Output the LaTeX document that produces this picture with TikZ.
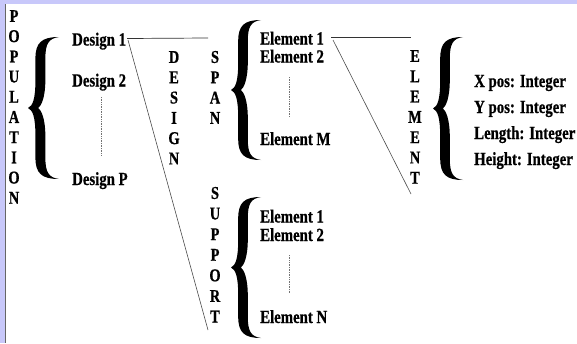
\documentclass[tikz,border=0pt]{standalone}
\usepackage{fontspec}
\newfontfamily\tf{Liberation Serif}[FakeStretch=0.8, BoldFeatures={FakeBold=0.7}]
\definecolor{framebl}{RGB}{200,200,250}
\newcommand\hvybrace[4]{%
\pgfmathsetmacro\bw{#1-#2}%
\pgfmathsetmacro\bM{(#3+#4)/2}%
\pgfmathsetmacro\bh{(#4-#3)/2}%
\pgfmathsetmacro\bxo{#2+0.24*\bw}%
\pgfmathsetmacro\bxi{#2+0.56*\bw}%
\pgfmathsetmacro\bxn{#2+0.33*\bw}%
\fill[bracestyle] (#1,#3) .. controls ({\bxo+0.2*\bw},#3) and (\bxo,{#3+0.08*\bh}) .. (\bxo,{#3+0.3*\bh})
 -- (\bxo,{\bM-0.4*\bh}) .. controls (\bxo,{\bM-0.12*\bh}) and ({#2+0.15*\bw},{\bM-0.03*\bh}) .. (#2,\bM)
 .. controls ({#2+0.15*\bw},{\bM+0.03*\bh}) and (\bxo,{\bM+0.12*\bh}) .. (\bxo,{\bM+0.4*\bh})
 -- (\bxo,{#4-0.3*\bh}) .. controls (\bxo,{#4-0.08*\bh}) and ({\bxo+0.2*\bw},#4) .. (#1,#4)
 .. controls ({\bxi+0.1*\bw},{#4-0.02*\bh}) and (\bxi,{#4-0.1*\bh}) .. (\bxi,{#4-0.3*\bh})
 -- (\bxi,{\bM+0.4*\bh}) .. controls (\bxi,{\bM+0.15*\bh}) and ({\bxn+0.1*\bw},{\bM+0.03*\bh}) .. (\bxn,\bM)
 .. controls ({\bxn+0.1*\bw},{\bM-0.03*\bh}) and (\bxi,{\bM-0.15*\bh}) .. (\bxi,{\bM-0.4*\bh})
 -- (\bxi,{#3+0.3*\bh}) .. controls (\bxi,{#3+0.1*\bh}) and ({\bxi+0.1*\bw},{#3+0.02*\bh}) .. (#1,#3) -- cycle;}
\begin{document}
\begin{tikzpicture}[x=1pt,y=-1pt,
  txt/.style={inner sep=0pt, anchor=base west, font=\tf\bfseries\fontsize{18.5}{20}\selectfont},
  vl/.style={inner sep=0pt, anchor=center, font=\tf\bfseries\fontsize{18}{20}\selectfont},
  conn/.style={line width=0.7pt, draw=black!80},
  dotv/.style={draw=black!55, line width=0.5pt, dash pattern=on 0.8pt off 0.9pt},
  bracestyle/.style={fill=black}]
\useasboundingbox (0,0) rectangle (577,343);
\fill[white] (0,0) rectangle (577,343);
\fill[framebl] (0,0) rectangle (577,4);
\fill[framebl] (0,0) rectangle (5,343);
\draw[black!60, line width=0.6pt] (5.5,4) -- (5.5,343);
% vertical words
\foreach \c [count=\i from 0] in {P,O,P,U,L,A,T,I,O,N}
  \node[vl] (pop\i) at (14,{16+20.2*\i}) {\c};
\foreach \c [count=\i from 0] in {D,E,S,I,G,N}
  \node[vl] (des\i) at (174,{57+20.3*\i}) {\c};
\foreach \c [count=\i from 0] in {S,P,A,N}
  \node[vl] (spa\i) at (215,{57+20.3*\i}) {\c};
\foreach \c [count=\i from 0] in {S,U,P,P,O,R,T}
  \node[vl] (sup\i) at (215,{193+20.6*\i}) {\c};
\foreach \c [count=\i from 0] in {E,L,E,M,E,N,T}
  \node[vl] (ele\i) at (415,{56+20.3*\i}) {\c};
% braces
\hvybrace{59}{28}{37}{179}
\hvybrace{261}{231}{20}{160}
\hvybrace{261}{231}{197}{338}
\hvybrace{463}{433}{37}{180}
% population
\node[txt] (d1) at (72,45.5) {Design 1};
\node[txt] (d2) at (72,86.5) {Design 2};
\node[txt] (dp) at (72,185) {Design P};
\coordinate (dtop) at (101,97);
\coordinate (dbot) at (101,155);
\draw[dotv] (dtop) -- (dbot);
% span
\node[txt] (se1) at (260,44.5) {Element 1};
\node[txt] (se2) at (260,62.5) {Element 2};
\node[txt] (sem) at (260,145) {Element M};
\coordinate (stop) at (289,77);
\coordinate (sbot) at (289,117);
\draw[dotv] (stop) -- (sbot);
% support
\node[txt] (pe1) at (260,222.5) {Element 1};
\node[txt] (pe2) at (260,241) {Element 2};
\node[txt] (pen) at (260,323) {Element N};
\coordinate (ptop) at (289,255);
\coordinate (pbot) at (289,293);
\draw[dotv] (ptop) -- (pbot);
% element properties
\node[txt] (xp) at (474,87) {X pos: Integer};
\node[txt] (yp) at (474,113) {Y pos: Integer};
\node[txt] (lp) at (474,139) {Length: Integer};
\node[txt] (hp) at (474,165) {Height: Integer};
% connectors
\coordinate (d1r) at (127,38.5);
\coordinate (d1s) at (128,40);
\coordinate (dh) at (208,38);
\coordinate (ds) at (208,330);
\draw[conn] (d1r) -- (dh);
\draw[conn, draw=black!70, line width=0.6pt] (d1s) -- (ds);
\coordinate (e1r) at (331,37.5);
\coordinate (e1s) at (333,40);
\coordinate (eh) at (411,37.5);
\coordinate (es) at (411,194);
\draw[conn] (e1r) -- (eh);
\draw[conn, draw=black!70, line width=0.6pt] (e1s) -- (es);
\end{tikzpicture}
\end{document}
